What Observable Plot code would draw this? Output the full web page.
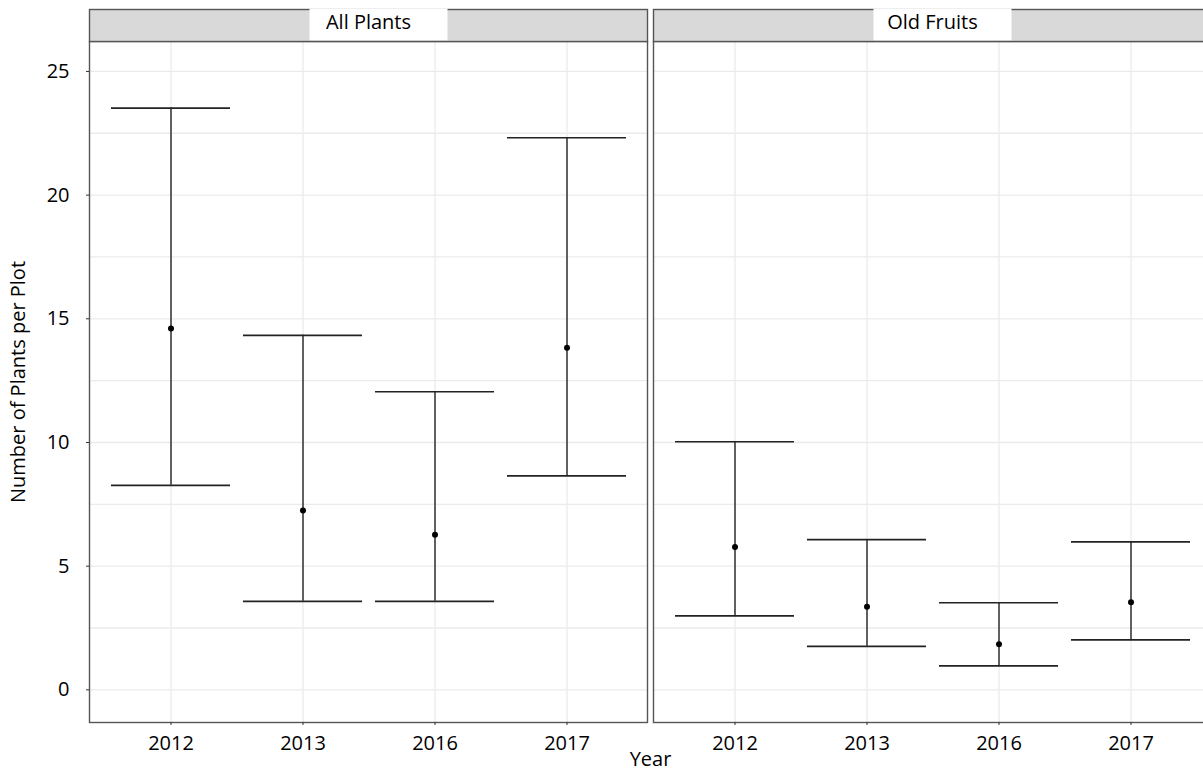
<!DOCTYPE html>
<html>
<head>
<meta charset="utf-8">
<script src="https://cdn.jsdelivr.net/npm/d3@7"></script>
<script src="https://cdn.jsdelivr.net/npm/@observablehq/plot@0.6"></script>
<style>
  html, body { margin: 0; padding: 0; background: #fff; overflow: hidden; }
  #chart { width: 1203px; height: 772px; overflow: hidden; }
  #chart svg { max-width: none !important; display: block; }
</style>
</head>
<body>
<div id="chart"></div>
<script>
// ---- data ----
const panels = ["All Plants", "Old Fruits"];
const years = ["2012", "2013", "2016", "2017"];
const allPlantsMean  = [14.61, 7.25, 6.27, 13.83];
const allPlantsLower = [8.27, 3.58, 3.58, 8.65];
const allPlantsUpper = [23.52, 14.33, 12.05, 22.32];
const oldFruitsMean  = [5.77, 3.36, 1.84, 3.54];
const oldFruitsLower = [2.99, 1.76, 0.97, 2.02];
const oldFruitsUpper = [10.03, 6.07, 3.52, 5.98];
const yTicks = [0, 5, 10, 15, 20, 25];
const yMinorTicks = [2.5, 7.5, 12.5, 17.5, 22.5];
const yLabel = "Number of Plants per Plot";
const xLabel = "Year";

const rows = [];
years.forEach((yr, i) => {
  rows.push({panel: panels[0], year: yr, mean: allPlantsMean[i], lower: allPlantsLower[i], upper: allPlantsUpper[i]});
  rows.push({panel: panels[1], year: yr, mean: oldFruitsMean[i], lower: oldFruitsLower[i], upper: oldFruitsUpper[i]});
});

// ---- layout ----
const W = 1211, H = 772, mL = 89, mT = 41, mB = 50, stripH = 32;
const panelH = H - mT - mB;
const gridColor = "#ebebeb";
const borderColor = "#555555";
const font = "'Open Sans', sans-serif";

const plot = Plot.plot({
  width: W,
  height: H,
  marginLeft: mL,
  marginRight: 0,
  marginTop: mT,
  marginBottom: mB,
  style: {fontFamily: font, fontSize: "20px", color: "#000", background: "#fff", maxWidth: "none"},
  fx: {domain: panels, paddingInner: 6 / 564, paddingOuter: 0, label: null},
  x: {domain: years, paddingInner: 0.1, paddingOuter: 0.15, label: null},
  y: {domain: [-1.32, 26.21], label: null},
  marks: [
    Plot.gridY(yMinorTicks, {stroke: gridColor, strokeOpacity: 1, strokeWidth: 1.3}),
    Plot.gridY(yTicks, {stroke: gridColor, strokeOpacity: 1, strokeWidth: 1.3}),
    Plot.gridX(years, {stroke: gridColor, strokeOpacity: 1, strokeWidth: 1.3}),
    Plot.frame({stroke: borderColor, strokeWidth: 1.4}),
    Plot.frame({fill: "#d9d9d9", stroke: borderColor, strokeWidth: 1.4, insetTop: -stripH, insetBottom: panelH}),
    Plot.ruleX(rows, {fx: "panel", x: "year", y1: "lower", y2: "upper", stroke: "#111", strokeWidth: 1.3}),
    Plot.tickY(rows, {fx: "panel", x: "year", y: "lower", stroke: "#222", strokeWidth: 1.7}),
    Plot.tickY(rows, {fx: "panel", x: "year", y: "upper", stroke: "#222", strokeWidth: 1.7}),
    Plot.dot(rows, {fx: "panel", x: "year", y: "mean", r: 3, fill: "#000", stroke: null}),
    Plot.axisY(yTicks, {anchor: "left", tickSize: 3, tickPadding: 17, stroke: "#333",
      label: yLabel, labelArrow: "none", labelAnchor: "center", labelOffset: 79}),
    Plot.axisX({anchor: "bottom", tickSize: 3, tickPadding: 10, stroke: "#333", label: null}),
    Plot.axisFx({anchor: "bottom", tickSize: 0, tickFormat: () => "", label: xLabel,
      labelAnchor: "center", labelOffset: 43}),
    Plot.text(panels, {fx: d => d, text: d => d, frameAnchor: "top", lineAnchor: "middle", dy: -19, fill: "#000"})
  ]
});

document.getElementById("chart").appendChild(plot);

const svg = plot.tagName.toLowerCase() === "svg" ? plot : plot.querySelector("svg");
svg.style.maxWidth = "none";
// make sure the y label carries no arrow
svg.querySelectorAll("text").forEach(t => {
  if (t.textContent.includes(yLabel) && t.textContent !== yLabel) {
    const tsp = t.querySelector("tspan");
    (tsp || t).textContent = yLabel;
  }
});
// white label boxes behind the strip texts
const stripTexts = Array.from(svg.querySelectorAll("text")).filter(t => panels.includes(t.textContent));
stripTexts.forEach(t => {
  const bb = t.getBBox();
  const tm = t.getCTM();
  const pm = t.parentNode.getCTM();
  const cx = tm.e + bb.x + bb.width / 2;
  const boxW = 138, boxShift = 10;
  const absX = cx + boxShift - boxW / 2;
  const absY = mT - stripH - 0.5;
  const r = document.createElementNS("http://www.w3.org/2000/svg", "rect");
  r.setAttribute("x", absX - pm.e);
  r.setAttribute("y", absY - pm.f);
  r.setAttribute("width", boxW);
  r.setAttribute("height", stripH - 0.3);
  r.setAttribute("fill", "#fff");
  r.setAttribute("stroke", "none");
  t.parentNode.insertBefore(r, t);
});
</script>
</body>
</html>
